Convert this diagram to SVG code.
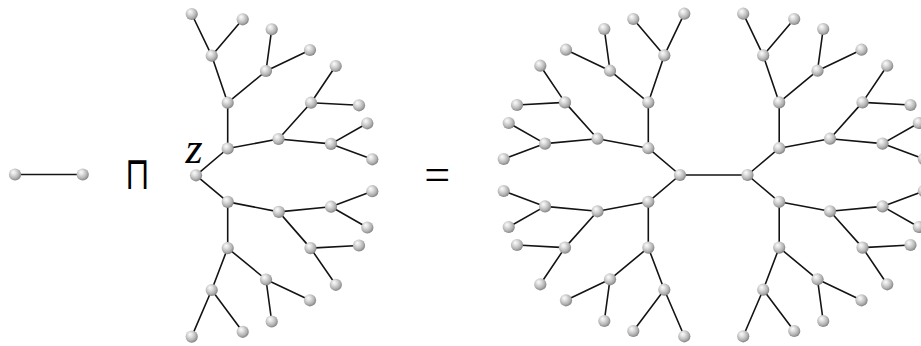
<svg xmlns="http://www.w3.org/2000/svg" width="921" height="346" viewBox="0 0 921 346">
<defs>
<radialGradient id="ballg" cx="0.42" cy="0.4" r="0.62" fx="0.36" fy="0.3">
<stop offset="0" stop-color="#fbfbfb"/>
<stop offset="0.3" stop-color="#e2e2e2"/>
<stop offset="0.72" stop-color="#b2b2b2"/>
<stop offset="1" stop-color="#808080"/>
</radialGradient>
<style>
.e{stroke:#141414;stroke-width:1.6;fill:none;stroke-linecap:round}
.n{fill:url(#ballg)}
.t{font-family:"Liberation Serif","DejaVu Serif",serif;fill:#000}
.s{font-family:"DejaVu Sans","Liberation Sans",sans-serif;fill:#000}
</style>
</defs>
<rect width="921" height="346" fill="#ffffff"/>
<g id="connectors">
<line class="e" x1="15" y1="174.5" x2="82.7" y2="174.5"/>
<line class="e" x1="680" y1="175" x2="747.5" y2="175"/>
<line class="e" x1="196" y1="175.3" x2="227.7" y2="148.5"/>
<line class="e" x1="227.7" y1="148.5" x2="227.7" y2="102.7"/>
<line class="e" x1="227.7" y1="102.7" x2="211.7" y2="55.7"/>
<line class="e" x1="211.7" y1="55.7" x2="191.7" y2="14"/>
<line class="e" x1="211.7" y1="55.7" x2="242.7" y2="19.3"/>
<line class="e" x1="227.7" y1="102.7" x2="266" y2="71"/>
<line class="e" x1="266" y1="71" x2="271.7" y2="29.3"/>
<line class="e" x1="266" y1="71" x2="310" y2="50"/>
<line class="e" x1="227.7" y1="148.5" x2="278.5" y2="139"/>
<line class="e" x1="278.5" y1="139" x2="311" y2="102.7"/>
<line class="e" x1="311" y1="102.7" x2="335.7" y2="66"/>
<line class="e" x1="311" y1="102.7" x2="359" y2="105.3"/>
<line class="e" x1="278.5" y1="139" x2="331" y2="143.9"/>
<line class="e" x1="331" y1="143.9" x2="367.3" y2="123.3"/>
<line class="e" x1="331" y1="143.9" x2="372.3" y2="159.3"/>
<line class="e" x1="196" y1="175.3" x2="227.7" y2="201.9"/>
<line class="e" x1="227.7" y1="201.9" x2="227.7" y2="248.1"/>
<line class="e" x1="227.7" y1="248.1" x2="211.7" y2="290"/>
<line class="e" x1="211.7" y1="290" x2="191.7" y2="336.6"/>
<line class="e" x1="211.7" y1="290" x2="242.7" y2="331.8"/>
<line class="e" x1="227.7" y1="248.1" x2="266" y2="279.5"/>
<line class="e" x1="266" y1="279.5" x2="271.7" y2="321.5"/>
<line class="e" x1="266" y1="279.5" x2="310" y2="300.3"/>
<line class="e" x1="227.7" y1="201.9" x2="278.8" y2="211.9"/>
<line class="e" x1="278.8" y1="211.9" x2="310.5" y2="248.1"/>
<line class="e" x1="310.5" y1="248.1" x2="335.8" y2="284.8"/>
<line class="e" x1="310.5" y1="248.1" x2="359" y2="245.5"/>
<line class="e" x1="278.8" y1="211.9" x2="331" y2="206.7"/>
<line class="e" x1="331" y1="206.7" x2="367.3" y2="227.5"/>
<line class="e" x1="331" y1="206.7" x2="372.3" y2="191.2"/>
<line class="e" x1="747.5" y1="175" x2="779.2" y2="148.2"/>
<line class="e" x1="779.2" y1="148.2" x2="779.2" y2="102.4"/>
<line class="e" x1="779.2" y1="102.4" x2="763.2" y2="55.4"/>
<line class="e" x1="763.2" y1="55.4" x2="743.2" y2="13.7"/>
<line class="e" x1="763.2" y1="55.4" x2="794.2" y2="19"/>
<line class="e" x1="779.2" y1="102.4" x2="817.5" y2="70.7"/>
<line class="e" x1="817.5" y1="70.7" x2="823.2" y2="29"/>
<line class="e" x1="817.5" y1="70.7" x2="861.5" y2="49.7"/>
<line class="e" x1="779.2" y1="148.2" x2="830" y2="138.7"/>
<line class="e" x1="830" y1="138.7" x2="862.5" y2="102.4"/>
<line class="e" x1="862.5" y1="102.4" x2="887.2" y2="65.7"/>
<line class="e" x1="862.5" y1="102.4" x2="910.5" y2="105"/>
<line class="e" x1="830" y1="138.7" x2="882.5" y2="143.6"/>
<line class="e" x1="882.5" y1="143.6" x2="918.8" y2="123"/>
<line class="e" x1="882.5" y1="143.6" x2="923.8" y2="159"/>
<line class="e" x1="747.5" y1="175" x2="779.2" y2="201.8"/>
<line class="e" x1="779.2" y1="201.8" x2="779.2" y2="247.6"/>
<line class="e" x1="779.2" y1="247.6" x2="763.2" y2="289.7"/>
<line class="e" x1="763.2" y1="289.7" x2="743.2" y2="336.3"/>
<line class="e" x1="763.2" y1="289.7" x2="794.2" y2="331"/>
<line class="e" x1="779.2" y1="247.6" x2="817.5" y2="279.3"/>
<line class="e" x1="817.5" y1="279.3" x2="823.2" y2="321"/>
<line class="e" x1="817.5" y1="279.3" x2="861.5" y2="300.3"/>
<line class="e" x1="779.2" y1="201.8" x2="830" y2="211.3"/>
<line class="e" x1="830" y1="211.3" x2="862.5" y2="247.6"/>
<line class="e" x1="862.5" y1="247.6" x2="887.2" y2="284.3"/>
<line class="e" x1="862.5" y1="247.6" x2="910.5" y2="245"/>
<line class="e" x1="830" y1="211.3" x2="882.5" y2="206.4"/>
<line class="e" x1="882.5" y1="206.4" x2="918.8" y2="227"/>
<line class="e" x1="882.5" y1="206.4" x2="923.8" y2="191"/>
<line class="e" x1="680" y1="175" x2="648.3" y2="148.2"/>
<line class="e" x1="648.3" y1="148.2" x2="648.3" y2="102.4"/>
<line class="e" x1="648.3" y1="102.4" x2="664.3" y2="55.4"/>
<line class="e" x1="664.3" y1="55.4" x2="684.3" y2="13.7"/>
<line class="e" x1="664.3" y1="55.4" x2="633.3" y2="19"/>
<line class="e" x1="648.3" y1="102.4" x2="610" y2="70.7"/>
<line class="e" x1="610" y1="70.7" x2="604.3" y2="29"/>
<line class="e" x1="610" y1="70.7" x2="566" y2="49.7"/>
<line class="e" x1="648.3" y1="148.2" x2="597.5" y2="138.7"/>
<line class="e" x1="597.5" y1="138.7" x2="565" y2="102.4"/>
<line class="e" x1="565" y1="102.4" x2="540.3" y2="65.7"/>
<line class="e" x1="565" y1="102.4" x2="517" y2="105"/>
<line class="e" x1="597.5" y1="138.7" x2="545" y2="143.6"/>
<line class="e" x1="545" y1="143.6" x2="508.7" y2="123"/>
<line class="e" x1="545" y1="143.6" x2="503.7" y2="159"/>
<line class="e" x1="680" y1="175" x2="648.3" y2="201.8"/>
<line class="e" x1="648.3" y1="201.8" x2="648.3" y2="247.6"/>
<line class="e" x1="648.3" y1="247.6" x2="664.3" y2="289.7"/>
<line class="e" x1="664.3" y1="289.7" x2="684.3" y2="336.3"/>
<line class="e" x1="664.3" y1="289.7" x2="633.3" y2="331"/>
<line class="e" x1="648.3" y1="247.6" x2="610" y2="279.3"/>
<line class="e" x1="610" y1="279.3" x2="604.3" y2="321"/>
<line class="e" x1="610" y1="279.3" x2="566" y2="300.3"/>
<line class="e" x1="648.3" y1="201.8" x2="597.5" y2="211.3"/>
<line class="e" x1="597.5" y1="211.3" x2="565" y2="247.6"/>
<line class="e" x1="565" y1="247.6" x2="540.3" y2="284.3"/>
<line class="e" x1="565" y1="247.6" x2="517" y2="245"/>
<line class="e" x1="597.5" y1="211.3" x2="545" y2="206.4"/>
<line class="e" x1="545" y1="206.4" x2="508.7" y2="227"/>
<line class="e" x1="545" y1="206.4" x2="503.7" y2="191"/>
</g>
<g id="k2-a"><circle class="n" cx="15" cy="174.5" r="6.1"/></g>
<g id="k2-b"><circle class="n" cx="82.7" cy="174.5" r="6.1"/></g>
<g id="m-root"><circle class="n" cx="196" cy="175.3" r="6.1"/></g>
<g id="m-a"><circle class="n" cx="227.7" cy="148.5" r="6.1"/></g>
<g id="m-b"><circle class="n" cx="227.7" cy="102.7" r="6.1"/></g>
<g id="m-c"><circle class="n" cx="211.7" cy="55.7" r="6.1"/></g>
<g id="m-c1"><circle class="n" cx="191.7" cy="14" r="6.1"/></g>
<g id="m-c2"><circle class="n" cx="242.7" cy="19.3" r="6.1"/></g>
<g id="m-d"><circle class="n" cx="266" cy="71" r="6.1"/></g>
<g id="m-d1"><circle class="n" cx="271.7" cy="29.3" r="6.1"/></g>
<g id="m-d2"><circle class="n" cx="310" cy="50" r="6.1"/></g>
<g id="m-e"><circle class="n" cx="278.5" cy="139" r="6.1"/></g>
<g id="m-f"><circle class="n" cx="311" cy="102.7" r="6.1"/></g>
<g id="m-f1"><circle class="n" cx="335.7" cy="66" r="6.1"/></g>
<g id="m-f2"><circle class="n" cx="359" cy="105.3" r="6.1"/></g>
<g id="m-g"><circle class="n" cx="331" cy="143.9" r="6.1"/></g>
<g id="m-g1"><circle class="n" cx="367.3" cy="123.3" r="6.1"/></g>
<g id="m-g2"><circle class="n" cx="372.3" cy="159.3" r="6.1"/></g>
<g id="m-a-b"><circle class="n" cx="227.7" cy="201.9" r="6.1"/></g>
<g id="m-b-b"><circle class="n" cx="227.7" cy="248.1" r="6.1"/></g>
<g id="m-c-b"><circle class="n" cx="211.7" cy="290" r="6.1"/></g>
<g id="m-c1-b"><circle class="n" cx="191.7" cy="336.6" r="6.1"/></g>
<g id="m-c2-b"><circle class="n" cx="242.7" cy="331.8" r="6.1"/></g>
<g id="m-d-b"><circle class="n" cx="266" cy="279.5" r="6.1"/></g>
<g id="m-d1-b"><circle class="n" cx="271.7" cy="321.5" r="6.1"/></g>
<g id="m-d2-b"><circle class="n" cx="310" cy="300.3" r="6.1"/></g>
<g id="m-e-b"><circle class="n" cx="278.8" cy="211.9" r="6.1"/></g>
<g id="m-f-b"><circle class="n" cx="310.5" cy="248.1" r="6.1"/></g>
<g id="m-f1-b"><circle class="n" cx="335.8" cy="284.8" r="6.1"/></g>
<g id="m-f2-b"><circle class="n" cx="359" cy="245.5" r="6.1"/></g>
<g id="m-g-b"><circle class="n" cx="331" cy="206.7" r="6.1"/></g>
<g id="m-g1-b"><circle class="n" cx="367.3" cy="227.5" r="6.1"/></g>
<g id="m-g2-b"><circle class="n" cx="372.3" cy="191.2" r="6.1"/></g>
<g id="r-root"><circle class="n" cx="747.5" cy="175" r="6.1"/></g>
<g id="r-a"><circle class="n" cx="779.2" cy="148.2" r="6.1"/></g>
<g id="r-b"><circle class="n" cx="779.2" cy="102.4" r="6.1"/></g>
<g id="r-c"><circle class="n" cx="763.2" cy="55.4" r="6.1"/></g>
<g id="r-c1"><circle class="n" cx="743.2" cy="13.7" r="6.1"/></g>
<g id="r-c2"><circle class="n" cx="794.2" cy="19" r="6.1"/></g>
<g id="r-d"><circle class="n" cx="817.5" cy="70.7" r="6.1"/></g>
<g id="r-d1"><circle class="n" cx="823.2" cy="29" r="6.1"/></g>
<g id="r-d2"><circle class="n" cx="861.5" cy="49.7" r="6.1"/></g>
<g id="r-e"><circle class="n" cx="830" cy="138.7" r="6.1"/></g>
<g id="r-f"><circle class="n" cx="862.5" cy="102.4" r="6.1"/></g>
<g id="r-f1"><circle class="n" cx="887.2" cy="65.7" r="6.1"/></g>
<g id="r-f2"><circle class="n" cx="910.5" cy="105" r="6.1"/></g>
<g id="r-g"><circle class="n" cx="882.5" cy="143.6" r="6.1"/></g>
<g id="r-g1"><circle class="n" cx="918.8" cy="123" r="6.1"/></g>
<g id="r-g2"><circle class="n" cx="923.8" cy="159" r="6.1"/></g>
<g id="r-a-b"><circle class="n" cx="779.2" cy="201.8" r="6.1"/></g>
<g id="r-b-b"><circle class="n" cx="779.2" cy="247.6" r="6.1"/></g>
<g id="r-c-b"><circle class="n" cx="763.2" cy="289.7" r="6.1"/></g>
<g id="r-c1-b"><circle class="n" cx="743.2" cy="336.3" r="6.1"/></g>
<g id="r-c2-b"><circle class="n" cx="794.2" cy="331" r="6.1"/></g>
<g id="r-d-b"><circle class="n" cx="817.5" cy="279.3" r="6.1"/></g>
<g id="r-d1-b"><circle class="n" cx="823.2" cy="321" r="6.1"/></g>
<g id="r-d2-b"><circle class="n" cx="861.5" cy="300.3" r="6.1"/></g>
<g id="r-e-b"><circle class="n" cx="830" cy="211.3" r="6.1"/></g>
<g id="r-f-b"><circle class="n" cx="862.5" cy="247.6" r="6.1"/></g>
<g id="r-f1-b"><circle class="n" cx="887.2" cy="284.3" r="6.1"/></g>
<g id="r-f2-b"><circle class="n" cx="910.5" cy="245" r="6.1"/></g>
<g id="r-g-b"><circle class="n" cx="882.5" cy="206.4" r="6.1"/></g>
<g id="r-g1-b"><circle class="n" cx="918.8" cy="227" r="6.1"/></g>
<g id="r-g2-b"><circle class="n" cx="923.8" cy="191" r="6.1"/></g>
<g id="l-root"><circle class="n" cx="680" cy="175" r="6.1"/></g>
<g id="l-a"><circle class="n" cx="648.3" cy="148.2" r="6.1"/></g>
<g id="l-b"><circle class="n" cx="648.3" cy="102.4" r="6.1"/></g>
<g id="l-c"><circle class="n" cx="664.3" cy="55.4" r="6.1"/></g>
<g id="l-c1"><circle class="n" cx="684.3" cy="13.7" r="6.1"/></g>
<g id="l-c2"><circle class="n" cx="633.3" cy="19" r="6.1"/></g>
<g id="l-d"><circle class="n" cx="610" cy="70.7" r="6.1"/></g>
<g id="l-d1"><circle class="n" cx="604.3" cy="29" r="6.1"/></g>
<g id="l-d2"><circle class="n" cx="566" cy="49.7" r="6.1"/></g>
<g id="l-e"><circle class="n" cx="597.5" cy="138.7" r="6.1"/></g>
<g id="l-f"><circle class="n" cx="565" cy="102.4" r="6.1"/></g>
<g id="l-f1"><circle class="n" cx="540.3" cy="65.7" r="6.1"/></g>
<g id="l-f2"><circle class="n" cx="517" cy="105" r="6.1"/></g>
<g id="l-g"><circle class="n" cx="545" cy="143.6" r="6.1"/></g>
<g id="l-g1"><circle class="n" cx="508.7" cy="123" r="6.1"/></g>
<g id="l-g2"><circle class="n" cx="503.7" cy="159" r="6.1"/></g>
<g id="l-a-b"><circle class="n" cx="648.3" cy="201.8" r="6.1"/></g>
<g id="l-b-b"><circle class="n" cx="648.3" cy="247.6" r="6.1"/></g>
<g id="l-c-b"><circle class="n" cx="664.3" cy="289.7" r="6.1"/></g>
<g id="l-c1-b"><circle class="n" cx="684.3" cy="336.3" r="6.1"/></g>
<g id="l-c2-b"><circle class="n" cx="633.3" cy="331" r="6.1"/></g>
<g id="l-d-b"><circle class="n" cx="610" cy="279.3" r="6.1"/></g>
<g id="l-d1-b"><circle class="n" cx="604.3" cy="321" r="6.1"/></g>
<g id="l-d2-b"><circle class="n" cx="566" cy="300.3" r="6.1"/></g>
<g id="l-e-b"><circle class="n" cx="597.5" cy="211.3" r="6.1"/></g>
<g id="l-f-b"><circle class="n" cx="565" cy="247.6" r="6.1"/></g>
<g id="l-f1-b"><circle class="n" cx="540.3" cy="284.3" r="6.1"/></g>
<g id="l-f2-b"><circle class="n" cx="517" cy="245" r="6.1"/></g>
<g id="l-g-b"><circle class="n" cx="545" cy="206.4" r="6.1"/></g>
<g id="l-g1-b"><circle class="n" cx="508.7" cy="227" r="6.1"/></g>
<g id="l-g2-b"><circle class="n" cx="503.7" cy="191" r="6.1"/></g>
<text class="s" font-size="32" font-weight="200" text-anchor="middle" transform="translate(137.5,188.5) scale(1,1.45)">⊓</text>
<text class="t" x="185.5" y="162.7" font-size="44" font-style="italic">z</text>
<text class="t" x="437.2" y="190" font-size="46" text-anchor="middle">=</text>
</svg>
